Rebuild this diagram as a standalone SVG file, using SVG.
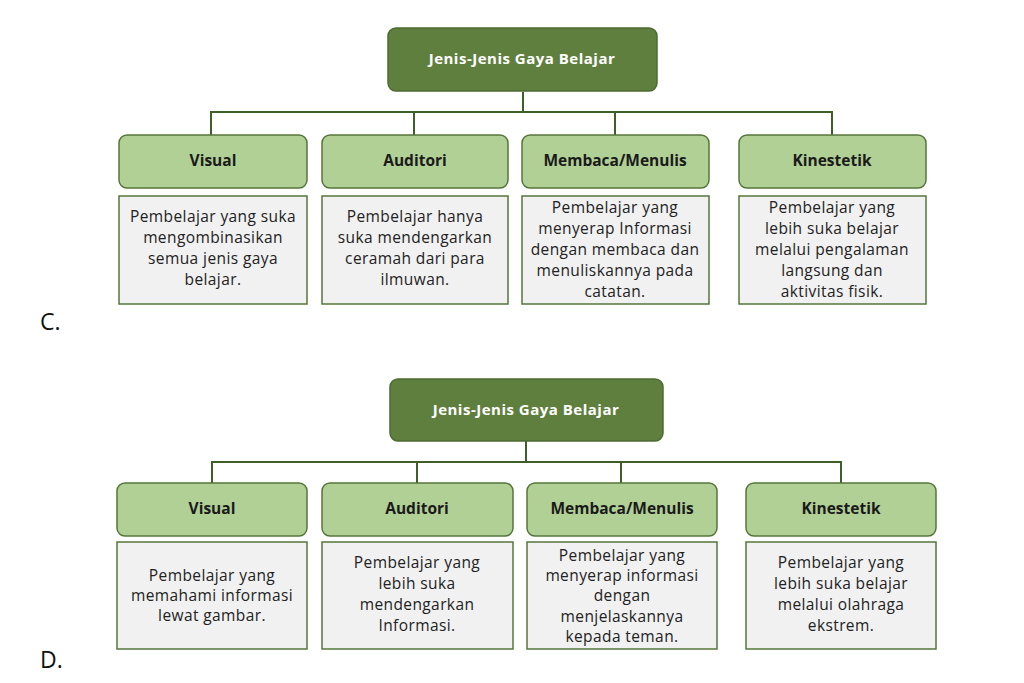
<svg xmlns="http://www.w3.org/2000/svg" width="1024" height="683" viewBox="0 0 1024 683">
<style>
.root{fill:#5f7f3e;stroke:#4d6b32;stroke-width:1.5}
.head{fill:#b1d096;stroke:#55763a;stroke-width:1.5}
.desc{fill:#f1f1f1;stroke:#55763a;stroke-width:1.5}
.rt{font-family:"Open Sans","Liberation Sans",sans-serif;font-weight:bold;font-size:15px;letter-spacing:0.5px;fill:#ffffff;text-anchor:middle}
.ht{font-family:"Open Sans","Liberation Sans",sans-serif;font-weight:bold;font-size:15.5px;fill:#1a1a1a;text-anchor:middle}
.dt{font-family:"Open Sans","Liberation Sans",sans-serif;font-size:15.5px;letter-spacing:0.4px;fill:#222;text-anchor:middle}
.lbl{font-family:"Open Sans","Liberation Sans",sans-serif;font-size:23px;fill:#111}
.con{fill:none;stroke:#3f5f28;stroke-width:2}
</style>
<rect width="1024" height="683" fill="#ffffff"/>
<g id="connectors">
<path class="con" d="M523 92V112M211 135V112H832V135M414 112V135M615 112V135"/>
<path class="con" d="M526 441V462M212 483V462H841V483M417 462V483M621 462V483"/>
</g>
<g id="c-root"><rect class="root" x="388" y="28" width="269" height="63" rx="8"/><text class="rt" x="522" y="64">Jenis-Jenis Gaya Belajar</text></g>
<g id="c-visual"><rect class="head" x="119" y="135" width="188" height="53" rx="8"/><text class="ht" x="213" y="166">Visual</text></g>
<g id="c-auditori"><rect class="head" x="322" y="135" width="186" height="53" rx="8"/><text class="ht" x="415" y="166">Auditori</text></g>
<g id="c-membaca"><rect class="head" x="522" y="135" width="187" height="53" rx="8"/><text class="ht" x="615" y="166">Membaca/Menulis</text></g>
<g id="c-kinestetik"><rect class="head" x="739" y="135" width="187" height="53" rx="8"/><text class="ht" x="832" y="166">Kinestetik</text></g>
<g id="c-visual-desc"><rect class="desc" x="119" y="196" width="188" height="108"/><text class="dt" x="213"><tspan x="213" y="222">Pembelajar yang suka</tspan><tspan x="213" y="243">mengombinasikan</tspan><tspan x="213" y="264">semua jenis gaya</tspan><tspan x="213" y="285">belajar.</tspan></text></g>
<g id="c-auditori-desc"><rect class="desc" x="322" y="196" width="186" height="108"/><text class="dt" x="415"><tspan x="415" y="222">Pembelajar hanya</tspan><tspan x="415" y="243">suka mendengarkan</tspan><tspan x="415" y="264">ceramah dari para</tspan><tspan x="415" y="285">ilmuwan.</tspan></text></g>
<g id="c-membaca-desc"><rect class="desc" x="522" y="196" width="187" height="108"/><text class="dt" x="615"><tspan x="615" y="213">Pembelajar yang</tspan><tspan x="615" y="234">menyerap Informasi</tspan><tspan x="615" y="255">dengan membaca dan</tspan><tspan x="615" y="276">menuliskannya pada</tspan><tspan x="615" y="297">catatan.</tspan></text></g>
<g id="c-kinestetik-desc"><rect class="desc" x="739" y="196" width="187" height="108"/><text class="dt" x="832"><tspan x="832" y="213">Pembelajar yang</tspan><tspan x="832" y="234">lebih suka belajar</tspan><tspan x="832" y="255">melalui pengalaman</tspan><tspan x="832" y="276">langsung dan</tspan><tspan x="832" y="297">aktivitas fisik.</tspan></text></g>
<text class="lbl" x="40" y="330">C.</text>
<g id="d-root"><rect class="root" x="390" y="379" width="273" height="62" rx="8"/><text class="rt" x="526" y="415">Jenis-Jenis Gaya Belajar</text></g>
<g id="d-visual"><rect class="head" x="117" y="483" width="190" height="53" rx="8"/><text class="ht" x="212" y="514">Visual</text></g>
<g id="d-auditori"><rect class="head" x="322" y="483" width="191" height="53" rx="8"/><text class="ht" x="417" y="514">Auditori</text></g>
<g id="d-membaca"><rect class="head" x="527" y="483" width="190" height="53" rx="8"/><text class="ht" x="622" y="514">Membaca/Menulis</text></g>
<g id="d-kinestetik"><rect class="head" x="746" y="483" width="190" height="53" rx="8"/><text class="ht" x="841" y="514">Kinestetik</text></g>
<g id="d-visual-desc"><rect class="desc" x="117" y="542" width="190" height="107"/><text class="dt" x="212"><tspan x="212" y="581">Pembelajar yang</tspan><tspan x="212" y="601">memahami informasi</tspan><tspan x="212" y="621">lewat gambar.</tspan></text></g>
<g id="d-auditori-desc"><rect class="desc" x="322" y="542" width="191" height="107"/><text class="dt" x="417"><tspan x="417" y="568">Pembelajar yang</tspan><tspan x="417" y="589">lebih suka</tspan><tspan x="417" y="610">mendengarkan</tspan><tspan x="417" y="631">Informasi.</tspan></text></g>
<g id="d-membaca-desc"><rect class="desc" x="527" y="542" width="190" height="107"/><text class="dt" x="622"><tspan x="622" y="561">Pembelajar yang</tspan><tspan x="622" y="581">menyerap informasi</tspan><tspan x="622" y="601">dengan</tspan><tspan x="622" y="622">menjelaskannya</tspan><tspan x="622" y="642">kepada teman.</tspan></text></g>
<g id="d-kinestetik-desc"><rect class="desc" x="746" y="542" width="190" height="107"/><text class="dt" x="841"><tspan x="841" y="568">Pembelajar yang</tspan><tspan x="841" y="589">lebih suka belajar</tspan><tspan x="841" y="610">melalui olahraga</tspan><tspan x="841" y="631">ekstrem.</tspan></text></g>
<text class="lbl" x="40" y="668">D.</text>
</svg>
